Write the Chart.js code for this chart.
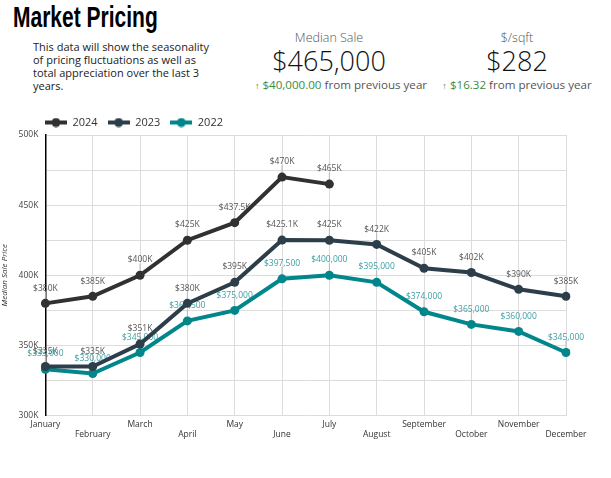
<!DOCTYPE html>
<html>
<head>
<meta charset="utf-8">
<script src="https://cdn.jsdelivr.net/npm/chart.js@4.4.1/dist/chart.umd.min.js"></script>
<style>
  html, body { margin: 0; padding: 0; background: #fff; }
  body { width: 611px; height: 478px; position: relative; overflow: hidden; font-family: "Open Sans", sans-serif; color: #333; }
  .titulo { position: absolute; left: 13px; top: 0px; margin: 0; font-family: "Liberation Sans", sans-serif; font-weight: bold; font-size: 30px; color: #000; transform: scaleX(0.7); transform-origin: left top; white-space: nowrap; }
  .descricao { position: absolute; left: 33px; top: 40px; width: 180px; font-size: 11px; line-height: 13px; color: #222; }
  .kpi { position: absolute; top: 30px; text-align: center; white-space: nowrap; }
  .kpi .rotulo { font-size: 12.5px; color: #555; font-weight: 300; line-height: 16px; }
  .kpi .valor { font-size: 27px; color: #111; font-weight: 300; line-height: 30px; }
  .kpi .variacao { font-size: 11.6px; color: #555; line-height: 16px; margin-top: 1px; }
  .kpi .variacao .up { color: #3d8b3d; font-size: 9px; font-weight: bold; }
  .kpi .variacao .num { color: #3d8b3d; }
  #kpi-venda { left: 229px; width: 200px; }
  #kpi-venda .variacao { position: relative; left: 12px; }
  #kpi-sqft { left: 417px; width: 200px; }
  .grafico { position: absolute; left: 0; top: 107px; width: 611px; height: 337px; }
</style>
</head>
<body>
<h1 class="titulo">Market Pricing</h1>
<div class="descricao">This data will show the seasonality of pricing fluctuations as well as total appreciation over the last 3 years.</div>

<div class="kpi" id="kpi-venda">
  <div class="rotulo">Median Sale</div>
  <div class="valor">$465,000</div>
  <div class="variacao"><span class="up">&#8593;</span> <span class="num">$40,000.00</span> from previous year</div>
</div>
<div class="kpi" id="kpi-sqft">
  <div class="rotulo">$/sqft</div>
  <div class="valor">$282</div>
  <div class="variacao"><span class="up">&#8593;</span> <span class="num">$16.32</span> from previous year</div>
</div>

<div class="grafico"><canvas id="pricing-chart"></canvas></div>

<script>
// Dados
const meses = ['January', 'February', 'March', 'April', 'May', 'June', 'July',
               'August', 'September', 'October', 'November', 'December'];
const vendas2024 = [380000, 385000, 400000, 425000, 437500, 470000, 465000];
const vendas2023 = [335000, 335000, 351000, 380000, 395000, 425100, 425000, 422000, 405000, 402000, 390000, 385000];
const vendas2022 = [333000, 330000, 345000, 367500, 375000, 397500, 400000, 395000, 374000, 365000, 360000, 345000];
const ticksY = [300000, 350000, 400000, 450000, 500000];

const corTexto = '#444';
const fonte = '"Open Sans", sans-serif';

// Formatos dos rótulos de cada série
function formatoK(v) { return '$' + (v / 1000) + 'K'; }
function formatoCheio(v) { return '$' + v.toLocaleString('en-US'); }

// Símbolo da legenda: linha com bolinha no meio
function simboloLegenda(cor) {
    const c = document.createElement('canvas');
    c.width = 22; c.height = 10;
    const g = c.getContext('2d');
    g.fillStyle = cor;
    g.fillRect(0, 3, 22, 4);
    g.beginPath();
    g.arc(11, 5, 4.5, 0, Math.PI * 2);
    g.fill();
    return c;
}

// Rótulos de valor com linha guia até o ponto
const rotulosPlugin = {
    id: 'rotulosValor',
    beforeDatasetsDraw(chart) {
        const ctx = chart.ctx;
        ctx.save();
        ctx.font = '8.5px ' + fonte;
        ctx.textAlign = 'center';
        ctx.textBaseline = 'bottom';
        chart.data.datasets.forEach((ds, i) => {
            const meta = chart.getDatasetMeta(i);
            meta.data.forEach((pt, j) => {
                const v = ds.data[j];
                if (v == null) return;
                ctx.strokeStyle = '#bbb';
                ctx.lineWidth = 1;
                ctx.beginPath();
                ctx.moveTo(pt.x, pt.y);
                ctx.lineTo(pt.x, pt.y - 12);
                ctx.stroke();
                ctx.fillStyle = ds.corRotulo;
                ctx.fillText(ds.formato(v), pt.x, pt.y - 11);
            });
        });
        ctx.restore();
    }
};

// Ajustes de posição da legenda (mais colada ao gráfico e alinhada ao eixo)
const legendaPlugin = {
    id: 'ajusteLegenda',
    beforeLayout(chart) {
        if (chart.legend && !chart.legend._ajustada) {
            const fitOriginal = chart.legend.fit;
            chart.legend.fit = function () {
                fitOriginal.call(this);
                this.height -= 3;
            };
            chart.legend._ajustada = true;
        }
    },
    afterLayout(chart) {
        if (chart.legend) {
            chart.legend.left += 35;
            chart.legend.right += 35;
        }
    }
};

function linha(label, dados, cor, corRotulo, formato) {
    return {
        label: label,
        data: dados,
        borderColor: cor,
        backgroundColor: cor,
        pointBackgroundColor: cor,
        pointBorderColor: cor,
        borderWidth: 4,
        pointRadius: 4.5,
        pointBorderWidth: 0,
        tension: 0,
        fill: false,
        corRotulo: corRotulo,
        formato: formato
    };
}

const ctx = document.getElementById('pricing-chart').getContext('2d');
const grafico = new Chart(ctx, {
    type: 'line',
    data: {
        labels: meses,
        datasets: [
            linha('2024', vendas2024, '#313131', '#555', formatoK),
            linha('2023', vendas2023, '#2d3e4b', '#555', formatoK),
            linha('2022', vendas2022, '#00868b', '#3d9ea3', formatoCheio)
        ]
    },
    options: {
        responsive: true,
        maintainAspectRatio: false,
        animation: false,
        layout: { padding: { left: 0, right: 45, top: 0, bottom: 0 } },
        plugins: {
            legend: {
                position: 'top',
                align: 'start',
                labels: {
                    usePointStyle: true,
                    pointStyleWidth: 22,
                    color: '#333',
                    font: { family: fonte, size: 11 },
                    padding: 10,
                    generateLabels(chart) {
                        const itens = Chart.defaults.plugins.legend.labels.generateLabels(chart);
                        itens.forEach(item => {
                            item.pointStyle = simboloLegenda(chart.data.datasets[item.datasetIndex].borderColor);
                        });
                        return itens;
                    }
                }
            },
            tooltip: { enabled: false }
        },
        scales: {
            x: {
                grid: { color: '#dcdcdc', drawTicks: false },
                border: { display: false },
                ticks: {
                    color: '#333',
                    font: { family: fonte, size: 8.5 },
                    padding: 4,
                    autoSkip: false,
                    maxRotation: 0,
                    callback: function (valor, i) {
                        return i % 2 ? ['', meses[i]] : meses[i];
                    }
                }
            },
            y: {
                min: 300000,
                max: 500000,
                grid: { color: '#dcdcdc', drawTicks: false },
                border: { display: true, color: '#000', width: 1.5 },
                title: {
                    display: true,
                    text: 'Median Sale Price',
                    color: '#333',
                    font: { family: fonte, size: 8, style: 'italic' },
                    padding: { top: 0, bottom: 2 }
                },
                ticks: {
                    stepSize: 25000,
                    color: corTexto,
                    font: { family: fonte, size: 8.5 },
                    padding: 7,
                    callback: function (valor) {
                        return ticksY.includes(valor) ? (valor / 1000) + 'K' : '';
                    }
                }
            }
        }
    },
    plugins: [rotulosPlugin, legendaPlugin]
});
</script>
</body>
</html>
